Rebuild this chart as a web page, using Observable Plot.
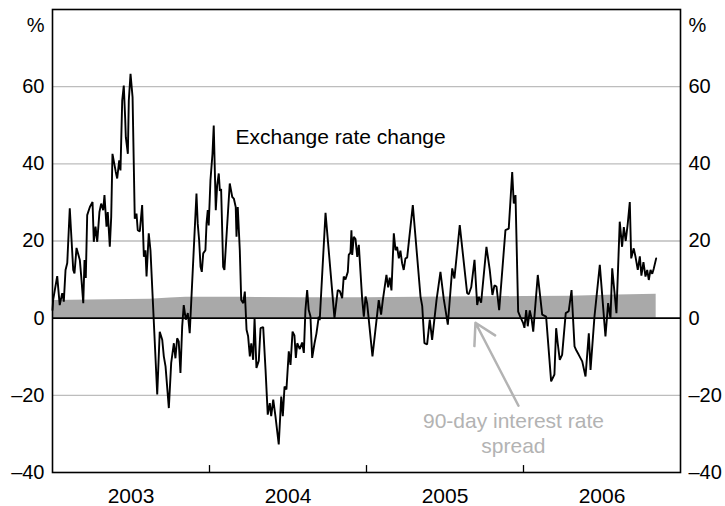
<!DOCTYPE html>
<html>
<head>
<meta charset="utf-8">
<script src="https://cdn.jsdelivr.net/npm/d3@7"></script>
<script src="https://cdn.jsdelivr.net/npm/@observablehq/plot@0.6"></script>
<style>
  html, body { margin: 0; padding: 0; background: #fff; }
  #chart svg { font-family: "Liberation Sans", Arial, Helvetica, sans-serif; }
</style>
</head>
<body>
<div id="chart"></div>
<script>
// Exchange rate change (%), time as decimal years
const erTime = [
  2003.000,2003.004,2003.030,2003.046,2003.062,2003.072,2003.083,2003.094,2003.110,2003.132,
  2003.140,2003.153,2003.174,2003.183,2003.196,2003.204,2003.212,2003.221,2003.238,2003.255,
  2003.263,2003.274,2003.285,2003.299,2003.310,2003.323,2003.331,2003.344,2003.352,2003.365,
  2003.374,2003.382,2003.403,2003.412,2003.425,2003.433,2003.444,2003.454,2003.463,2003.467,
  2003.480,2003.486,2003.497,2003.510,2003.524,2003.535,2003.543,2003.556,2003.571,2003.582,
  2003.592,2003.599,2003.613,2003.624,2003.667,2003.683,2003.699,2003.709,2003.720,2003.741,
  2003.756,2003.773,2003.783,2003.794,2003.804,2003.815,2003.826,2003.836,2003.849,2003.862,
  2003.874,2003.917,2003.925,2003.934,2003.943,2003.951,2003.960,2003.974,2003.981,2003.989,
  2003.995,2004.006,2004.019,2004.027,2004.040,2004.049,2004.059,2004.066,2004.074,2004.087,
  2004.095,2004.108,2004.129,2004.145,2004.155,2004.167,2004.172,2004.180,2004.193,2004.202,
  2004.215,2004.225,2004.236,2004.246,2004.257,2004.266,2004.278,2004.287,2004.299,2004.314,
  2004.325,2004.342,2004.357,2004.371,2004.384,2004.393,2004.406,2004.420,2004.441,2004.457,
  2004.467,2004.478,2004.490,2004.505,2004.516,2004.529,2004.541,2004.550,2004.559,2004.575,
  2004.590,2004.601,2004.611,2004.622,2004.632,2004.643,2004.654,2004.669,2004.681,2004.696,
  2004.702,2004.739,2004.796,2004.817,2004.830,2004.845,2004.855,2004.866,2004.881,2004.887,
  2004.898,2004.904,2004.909,2004.919,2004.930,2004.941,2004.951,2004.972,2004.983,2004.994,
  2005.004,2005.038,2005.078,2005.093,2005.104,2005.127,2005.138,2005.148,2005.159,2005.174,
  2005.185,2005.195,2005.206,2005.216,2005.227,2005.237,2005.248,2005.259,2005.295,2005.344,
  2005.355,2005.369,2005.386,2005.403,2005.418,2005.446,2005.471,2005.492,2005.518,2005.546,
  2005.560,2005.594,2005.641,2005.651,2005.667,2005.688,2005.705,2005.715,2005.730,2005.764,
  2005.785,2005.802,2005.815,2005.828,2005.845,2005.885,2005.906,2005.928,2005.938,2005.949,
  2005.966,2005.981,2005.998,2006.006,2006.017,2006.027,2006.040,2006.051,2006.062,2006.091,
  2006.119,2006.144,2006.176,2006.197,2006.208,2006.218,2006.231,2006.246,2006.269,2006.288,
  2006.306,2006.325,2006.337,2006.352,2006.374,2006.395,2006.416,2006.427,2006.452,2006.486,
  2006.522,2006.539,2006.554,2006.565,2006.592,2006.613,2006.628,2006.639,2006.651,2006.664,
  2006.677,2006.686,2006.702,2006.713,2006.728,2006.741,2006.751,2006.764,2006.777,2006.788,
  2006.798,2006.809,2006.820,2006.830,2006.845
];
const erValue = [
  2.1,4.7,10.9,3.4,6.5,4.3,12.5,14.3,28.5,12.5,
  11.6,18.2,15.1,10.8,3.9,15.1,10.4,26.7,28.8,30.1,
  19.8,23.7,19.8,27.5,29.7,28.0,31.9,23.7,27.5,18.5,
  26.3,42.6,37.9,36.2,40.9,38.3,56.4,60.3,51.7,46.9,
  42.6,56.4,63.3,57.3,25.8,27.1,22.8,22.5,29.3,15.9,
  17.6,10.8,22.0,17.6,-19.8,-3.5,-5.6,-9.9,-12.5,-23.3,
  -11.6,-6.5,-10.4,-5.2,-6.0,-14.2,-2.2,3.4,-0.4,1.3,
  -3.9,32.3,24.5,20.2,13.3,12.0,16.8,17.6,24.5,28.0,
  24.0,35.7,42.6,49.9,28.0,34.5,37.5,33.0,33.5,13.3,
  12.5,21.1,34.9,31.4,31.0,28.8,21.1,28.8,17.6,4.7,
  3.9,6.9,-3.0,-4.7,-9.9,-6.5,-10.8,0.0,-12.9,-11.0,
  -2.6,-2.3,-13.4,-25.0,-22.0,-25.4,-21.1,-25.4,-32.7,-20.3,
  -25.4,-17.7,-18.5,-8.6,-12.1,-3.5,-4.5,-10.3,-6.5,-8.0,
  -6.3,-9.0,2.1,7.3,2.1,0.5,-10.3,-6.5,-4.0,0.4,
  -0.5,27.3,0.0,7.3,7.0,5.2,10.8,10.0,12.0,16.4,
  17.0,22.8,16.4,21.1,20.5,15.9,19.0,5.2,0.4,5.6,
  3.9,-9.9,4.7,0.9,4.7,11.2,8.0,10.5,7.2,22.0,
  17.6,18.5,15.5,17.5,14.2,12.5,15.5,15.7,29.3,5.6,
  3.1,-6.5,-6.8,-0.4,-5.6,4.7,12.0,5.0,-1.7,12.9,
  10.3,24.1,6.5,6.2,8.0,15.1,3.4,5.5,4.0,18.5,
  12.5,6.0,8.5,8.2,2.1,22.8,23.2,37.9,29.7,31.9,
  1.7,0.2,-1.3,-2.5,2.1,-2.1,2.0,0.0,-3.5,11.2,
  0.9,0.4,-16.4,-14.6,-2.6,-6.5,-10.8,-9.5,1.3,1.8,
  7.3,-7.3,-8.4,-9.5,-11.2,-15.1,-3.9,-13.4,0.4,13.8,
  -4.7,3.9,0.0,12.9,1.3,25.0,18.5,23.6,20.0,24.5,
  30.1,15.5,18.1,16.0,12.5,16.0,11.0,14.5,10.8,12.5,
  9.9,12.5,11.5,12.9,15.5
];

// 90-day interest rate spread (%)
const spreadTime  = [2003.000,2003.350,2003.620,2003.750,2003.850,2004.200,2004.600,2005.000,2005.500,2006.000,2006.300,2006.600,2006.845];
const spreadValue = [4.6,4.8,4.9,5.2,5.4,5.4,5.3,5.3,5.5,5.6,5.7,6.0,6.2];

const yTicks = [-40, -20, 0, 20, 40, 60];
const gridValues = [-20, 20, 40, 60];
const yearTicks = [2004, 2005, 2006];
const yearLabels = ["2003", "2004", "2005", "2006"];

const er = erTime.map((t, i) => ({t, v: erValue[i]}));
const spread = spreadTime.map((t, i) => ({t, v: spreadValue[i]}));

const fmt = d => d < 0 ? "\u2013" + Math.abs(d) : String(d);

const chart = Plot.plot({
  width: 725,
  height: 506,
  marginLeft: 52,
  marginRight: 45,
  marginTop: 9,
  marginBottom: 34,
  style: {fontFamily: "'Liberation Sans', Arial, Helvetica, sans-serif", background: "#fff"},
  x: {domain: [2003, 2007]},
  y: {domain: [-40, 80]},
  marks: [
    Plot.areaY(spread, {x: "t", y: "v", fill: "#a9a9a9"}),
    Plot.ruleY(gridValues, {stroke: "#bdbdbd", strokeWidth: 1.3}),
    Plot.ruleY([0], {stroke: "#000", strokeWidth: 1.6}),
    Plot.line(er, {x: "t", y: "v", stroke: "#000", strokeWidth: 1.9, strokeLinejoin: "miter"}),
    Plot.ruleX(yearTicks, {y1: -40, y2: -38.2, stroke: "#000", strokeWidth: 1.3}),
    Plot.frame({stroke: "#000", strokeWidth: 1.6}),
    Plot.axisY(yTicks, {anchor: "left", tickSize: 0, tickPadding: 8, fontSize: 20, tickFormat: fmt, label: null, fill: "#000"}),
    Plot.axisY(yTicks, {anchor: "right", tickSize: 0, tickPadding: 8, fontSize: 20, tickFormat: fmt, label: null, fill: "#000"}),
    Plot.axisX([], {label: null, tickSize: 0}),
    Plot.text(yearLabels, {x: d => +d + 0.5, frameAnchor: "bottom", lineAnchor: "middle", dy: 24, fontSize: 21, fill: "#000"}),
    Plot.text(["%"], {frameAnchor: "top-left", lineAnchor: "middle", dx: -8, dy: 16, textAnchor: "end", fontSize: 20, fill: "#000"}),
    Plot.text(["%"], {frameAnchor: "top-right", lineAnchor: "middle", dx: 8, dy: 16, textAnchor: "start", fontSize: 20, fill: "#000"}),
    Plot.text(["Exchange rate change"], {x: 2004.166, y: 46.9, textAnchor: "start", fontSize: 21, fill: "#000"}),
    Plot.text(["90-day interest rate\nspread"], {x: 2005.936, y: -29.7, textAnchor: "middle", fontSize: 21, lineHeight: 1.15, fill: "#b3b3b3"}),
    Plot.arrow([{x1: 2005.968, y1: -22.7, x2: 2005.694, y2: -1.2}], {x1: "x1", y1: "y1", x2: "x2", y2: "y2", stroke: "#b3b3b3", strokeWidth: 2.5, headLength: 14})
  ]
});
document.getElementById("chart").appendChild(chart);
</script>
</body>
</html>
